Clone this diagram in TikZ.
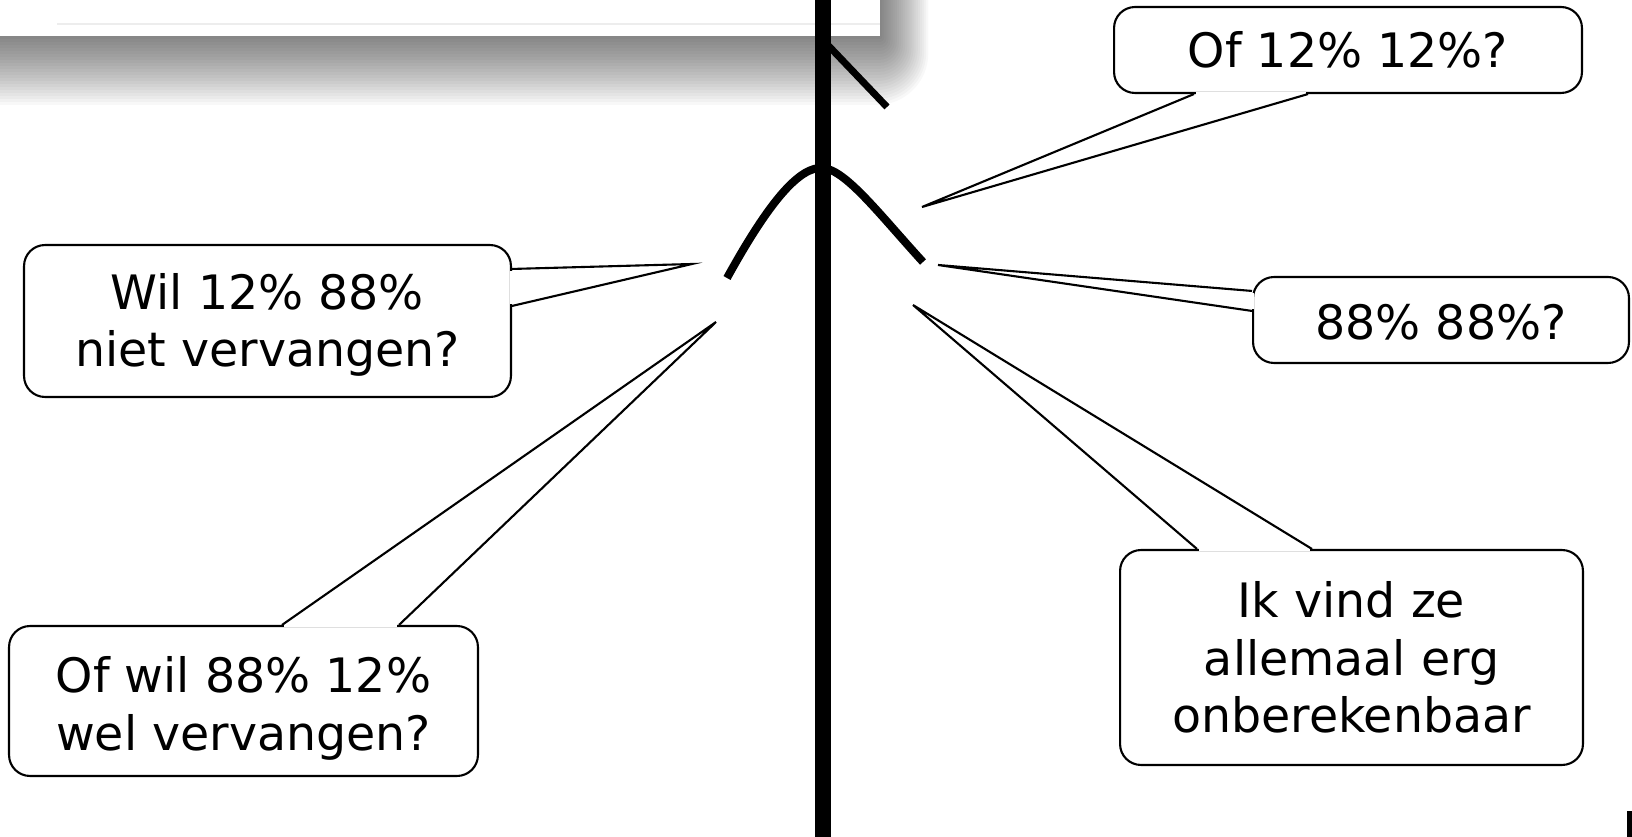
\documentclass[tikz,border=0pt]{standalone}
\usepackage{fontspec}
\setmainfont{DejaVu Sans}
\usetikzlibrary{calc}

\tikzset{
  bubble/.style={draw, rounded corners=0.42cm, line width=1.2pt, fill=white, align=center, inner sep=0pt, font=\fontsize{27}{32.7}\selectfont},
  tailline/.style={line width=1.2pt},
  gap/.style={white, line width=2.6pt}
}

\begin{document}
\begin{tikzpicture}[x=0.02cm, y=-0.02cm]
\useasboundingbox (0,0) rectangle (1632,837);
\clip (0,0) rectangle (1632,837);

% window with its shadow
\foreach \d [evaluate=\d as \r using \d*0.015] in {3,6,...,69}
  \fill[black, opacity=0.027, rounded corners=\r cm] (-200,-200) rectangle (880+0.7*\d,36+\d);
\fill[white] (-10,-10) rectangle (880,36);
\draw[black!7, line width=0.04cm] (57,24) -- (880,24);

% curve and axis
\draw[line width=0.16cm] (727,278) .. controls (770,200) and (800,166) .. (823,168)
   .. controls (846,170) and (880,215) .. (923,262);
\draw[line width=0.14cm] (823,40) -- (887,107);
\draw[line width=0.32cm] (823,-5) -- (823,845);

% tips of the balloons
\coordinate (tipof) at (922,207);
\coordinate (tipwil) at (692,264);
\coordinate (tipeight) at (938,265);
\coordinate (tipofwil) at (716,322);
\coordinate (tipik) at (913,305);

% balloons
\node[bubble, minimum width=9.36cm, minimum height=1.72cm] (of) at (1348,50) {Of 12\% 12\%?};
\node[bubble, minimum width=9.74cm, minimum height=3.04cm] (wil) at (267.5,321) {\rule{0pt}{25pt}Wil 12\% 88\%\\niet vervangen?};
\node[bubble, minimum width=7.52cm, minimum height=1.72cm] (eight) at (1441,320) {\rule{0pt}{23pt}88\% 88\%?};
\node[bubble, minimum width=9.38cm, minimum height=3cm] (ofwil) at (243.5,701) {\rule{0pt}{29pt}Of wil 88\% 12\%\\wel vervangen?};
\node[bubble, minimum width=9.26cm, minimum height=4.3cm] (ik) at (1351.5,657.5) {Ik vind ze\\allemaal erg\\onberekenbaar};

% tails
\draw[gap] ($(of.south west)+(83,0)$) -- ($(of.south west)+(193,0)$);
\draw[tailline] ($(of.south west)+(81,0)$) -- (tipof) -- ($(of.south west)+(195,0)$);

\draw[gap] ($(wil.north east)+(0,27)$) -- ($(wil.north east)+(0,60)$);
\draw[tailline] ($(wil.north east)+(0,25)$) -- (tipwil) -- ($(wil.north east)+(0,62)$);

\draw[gap] ($(eight.north west)+(0,17)$) -- ($(eight.north west)+(0,33)$);
\draw[tailline] ($(eight.north west)+(0,15)$) -- (tipeight) -- ($(eight.north west)+(0,35)$);

\draw[gap] ($(ofwil.north west)+(276,0)$) -- ($(ofwil.north west)+(389,0)$);
\draw[tailline] ($(ofwil.north west)+(274,0)$) -- (tipofwil) -- ($(ofwil.north west)+(391,0)$);

\draw[gap] ($(ik.north west)+(80,0)$) -- ($(ik.north west)+(191,0)$);
\draw[tailline] ($(ik.north west)+(78,0)$) -- (tipik) -- ($(ik.north west)+(193,0)$);

% corner at the bottom
\fill (1627,811) rectangle (1632,837);
\end{tikzpicture}
\end{document}
